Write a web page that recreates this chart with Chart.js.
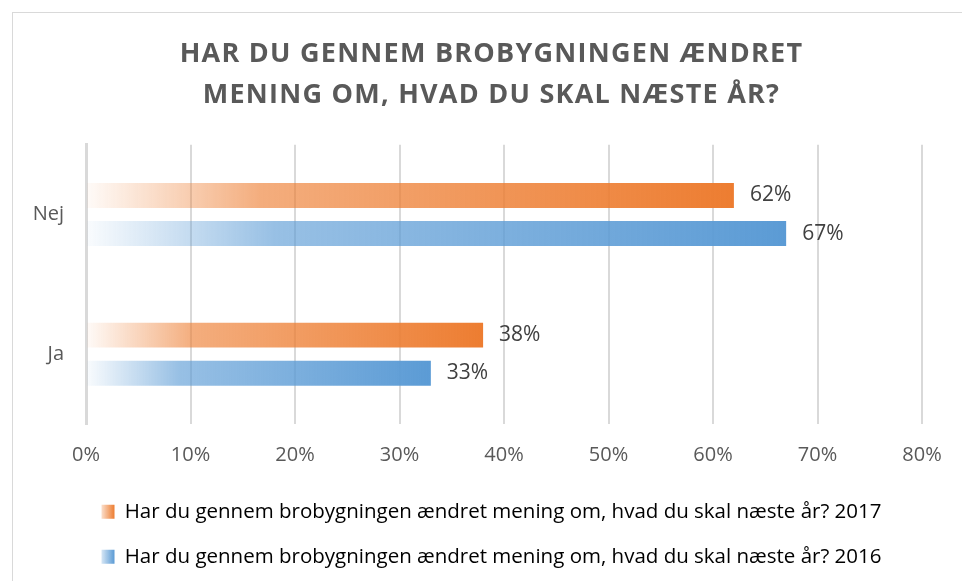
<!DOCTYPE html>
<html>
<head>
<meta charset="utf-8">
<script src="https://cdn.jsdelivr.net/npm/chart.js@4"></script>
<style>
  html, body { margin: 0; padding: 0; background: #fff; overflow: hidden; }
  #wrap {
    position: absolute; left: 12px; top: 12px;
    width: 958px; height: 569px;
    border-top: 1px solid #d9d9d9; border-left: 1px solid #d9d9d9;
    box-sizing: border-box;
  }
</style>
</head>
<body>
<div id="wrap"><canvas id="chart"></canvas></div>
<script>
const categories = ["Nej", "Ja"];
const values2017 = [62, 38];
const values2016 = [67, 33];
const xTicks = [0, 10, 20, 30, 40, 50, 60, 70, 80];
const seriesNames = [
  "Har du gennem brobygningen ændret mening om, hvad du skal næste år? 2017",
  "Har du gennem brobygningen ændret mening om, hvad du skal næste år? 2016"
];
const titleLines = ["HAR DU GENNEM BROBYGNINGEN ÆNDRET", "MENING OM, HVAD DU SKAL NÆSTE ÅR?"];

const ORANGE = [237, 125, 49];
const BLUE = [91, 155, 213];
const FONT = "'Open Sans', sans-serif";

function rgba(c, a) {
  return `rgba(${c[0]},${c[1]},${c[2]},${a})`;
}

function addStops(g, c) {
  g.addColorStop(0, rgba(c, 0.03));
  g.addColorStop(0.15, rgba(c, 0.36));
  g.addColorStop(0.27, rgba(c, 0.63));
  g.addColorStop(1, rgba(c, 1));
  return g;
}

function barFill(c) {
  return (ctx) => {
    const chart = ctx.chart;
    if (!chart.chartArea || ctx.type !== "data") return rgba(c, 1);
    const x = chart.scales.x;
    const x0 = x.getPixelForValue(0);
    const x1 = x.getPixelForValue(ctx.parsed.x);
    return addStops(chart.ctx.createLinearGradient(x0, 0, x1, 0), c);
  };
}

const colors = [ORANGE, BLUE];

const titleSpacing = {
  id: "titleSpacing",
  beforeDraw(chart) {
    const tb = chart.titleBlock;
    if (tb && !tb._spaced) {
      const orig = tb.draw.bind(tb);
      tb.draw = function () {
        chart.ctx.save();
        chart.ctx.letterSpacing = "1.25px";
        orig();
        chart.ctx.restore();
      };
      tb._spaced = true;
    }
  }
};

const valueLabels = {
  id: "valueLabels",
  afterDatasetsDraw(chart) {
    const ctx = chart.ctx;
    ctx.save();
    ctx.font = `21px ${FONT}`;
    ctx.fillStyle = "#404040";
    ctx.textAlign = "left";
    ctx.textBaseline = "middle";
    chart.data.datasets.forEach((ds, i) => {
      chart.getDatasetMeta(i).data.forEach((bar, j) => {
        ctx.fillText(ds.data[j] + "%", bar.x + 16, bar.y);
      });
    });
    ctx.restore();
  },
  afterDraw(chart) {
    // legend markers with the same fade as the bars
    const ctx = chart.ctx;
    const boxes = chart.legend.legendHitBoxes || [];
    boxes.forEach((b, i) => {
      const w = 13, h = 14;
      const y = b.top + (b.height - h) / 2;
      const g = ctx.createLinearGradient(b.left, 0, b.left + w, 0);
      g.addColorStop(0, rgba(colors[i], 0.25));
      g.addColorStop(1, rgba(colors[i], 1));
      ctx.fillStyle = g;
      ctx.fillRect(b.left, y, w, h);
    });
  }
};

new Chart(document.getElementById("chart"), {
  type: "bar",
  data: {
    labels: categories,
    datasets: [
      { label: seriesNames[0], data: values2017, backgroundColor: barFill(ORANGE) },
      { label: seriesNames[1], data: values2016, backgroundColor: barFill(BLUE) }
    ]
  },
  options: {
    indexAxis: "y",
    responsive: true,
    maintainAspectRatio: false,
    animation: false,
    categoryPercentage: 0.546,
    barPercentage: 0.654,
    layout: { padding: { left: 0, right: 0, top: 0, bottom: 4 } },
    scales: {
      x: {
        min: 0,
        max: 80,
        afterBuildTicks: (s) => { s.ticks = xTicks.map((v) => ({ value: v })); },
        afterFit: (s) => { s.height = 53; s.paddingRight = 48; },
        ticks: {
          callback: (v) => v + "%",
          color: "#595959",
          font: { family: FONT, size: 20 },
          padding: 19
        },
        grid: { color: "#d9d9d9", lineWidth: 2, drawTicks: false },
        border: { display: false }
      },
      y: {
        afterFit: (s) => { s.width = 73; },
        ticks: {
          color: "#595959",
          font: { family: FONT, size: 20 },
          padding: 22
        },
        grid: { display: false, drawTicks: false },
        border: { color: "#d9d9d9", width: 3 }
      }
    },
    plugins: {
      title: {
        display: true,
        text: titleLines,
        color: "#595959",
        font: { family: FONT, size: 27, weight: "bold", lineHeight: 1.55 },
        padding: { top: 20, bottom: 28 }
      },
      legend: {
        position: "bottom",
        labels: {
          color: "#595959",
          font: { family: FONT, size: 20.5 },
          boxWidth: 13,
          boxHeight: 14,
          padding: 24.5,
          generateLabels: (chart) => chart.data.datasets.map((ds, i) => ({
            text: ds.label,
            fillStyle: "rgba(0,0,0,0)",
            strokeStyle: "rgba(0,0,0,0)",
            lineWidth: 0,
            datasetIndex: i
          }))
        }
      },
      tooltip: { enabled: false }
    }
  },
  plugins: [titleSpacing, valueLabels]
});
</script>
</body>
</html>
